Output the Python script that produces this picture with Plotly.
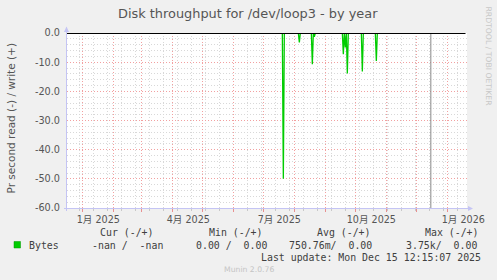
import plotly.graph_objects as go
import pandas as pd

# ---------------- data ----------------
read_dates = [
    "2025-07-01", "2025-07-20", "2025-07-21", "2025-07-22",
    "2025-08-05", "2025-08-06", "2025-08-07",
    "2025-08-18", "2025-08-19", "2025-08-20", "2025-08-21", "2025-08-22",
    "2025-09-18", "2025-09-19", "2025-09-20", "2025-09-21", "2025-09-22",
    "2025-09-23", "2025-09-24",
    "2025-10-07", "2025-10-08", "2025-10-09",
    "2025-10-21", "2025-10-22", "2025-10-23", "2025-12-15",
]
read_values = [
    0.0, 0.0, -50.0, 0.0,
    0.0, -3.2, 0.0,
    0.0, -10.7, 0.0, -1.3, 0.0,
    0.0, -7.3, 0.0, -5.0, 0.0,
    -13.9, 0.0,
    0.0, -13.2, 0.0,
    0.0, -9.6, 0.0, 0.0,
]
write_dates = ["2025-07-01", "2025-12-15"]
write_values = [0.0, 0.0]

now_marker = "2025-12-15 12:15"

x_range = ["2024-12-16 16:00", "2026-01-20 16:00"]
major_ticks = [d.strftime("%Y-%m-%d") for d in pd.date_range("2025-01-01", "2026-01-01", freq="MS")]
minor_start = "2024-12-29"
label_months = ["2025-01-01", "2025-04-01", "2025-07-01", "2025-10-01", "2026-01-01"]
label_text = ["1月 2025", "4月 2025", "7月 2025", "10月 2025", "1月 2026"]

y_ticks = [0, -10, -20, -30, -40, -50, -60]
y_labels = ["0.0", "-10.0", "-20.0", "-30.0", "-40.0", "-50.0", "-60.0"]

title = "Disk throughput for /dev/loop3 - by year"
y_title = "Pr second read (-) / write (+)"
legend_headers = ["Cur (-/+)", "Min (-/+)", "Avg (-/+)", "Max (-/+)"]
legend_name = "Bytes"
legend_values = ["-nan /  -nan", "0.00 /  0.00", "750.76m/  0.00", "3.75k/  0.00"]
last_update = "Last update: Mon Dec 15 12:15:07 2025"
footer = "Munin 2.0.76"
side_text = "RRDTOOL / TOBI OETIKER"

# ---------------- layout constants ----------------
W, H = 497, 280
L, R, T, B = 67, 30, 33, 72
PW, PH = W - L - R, H - T - B
GREEN = "#00CC00"
AXIS = "#C4C4F4"
TXT = "#555555"
SANS = "DejaVu Sans, Noto Sans CJK JP, sans-serif"
MONO = "DejaVu Sans Mono, monospace"


def px(x):
    return (x - L) / PW


def py(y):
    return (H - B - y) / PH


label_pos = [(pd.Timestamp(m) + pd.Timedelta(days=16)).strftime("%Y-%m-%d %H:%M") for m in label_months]

fig = go.Figure()
fig.add_trace(go.Scatter(x=write_dates, y=write_values, mode="lines",
                         line=dict(color=GREEN, width=1), hoverinfo="skip", showlegend=False))
fig.add_trace(go.Scatter(x=read_dates, y=read_values, mode="lines",
                         line=dict(color=GREEN, width=1.3), hoverinfo="skip", showlegend=False))
# invisible trace so the label axis is drawn
fig.add_trace(go.Scatter(x=label_pos, y=[None] * len(label_pos), xaxis="x2", mode="lines",
                         hoverinfo="skip", showlegend=False))

fig.update_layout(
    width=W, height=H,
    margin=dict(l=L, r=R, t=T, b=B, pad=0),
    paper_bgcolor="#F0F0F0",
    plot_bgcolor="#FFFFFF",
    showlegend=False,
    xaxis=dict(
        type="date", range=x_range,
        tickmode="array", tickvals=major_ticks, ticktext=[""] * len(major_ticks),
        showgrid=True, gridcolor="#F2A0A0", griddash="1px,2px", gridwidth=1,
        ticks="outside", ticklen=3, tickcolor="#E89090", tickwidth=1,
        minor=dict(tick0=minor_start, dtick=14 * 86400000, showgrid=True,
                   gridcolor="#D8D8D8", griddash="1px,2px", gridwidth=1,
                   ticks="outside", ticklen=2, tickcolor="#C8C8C8"),
        showline=False, zeroline=False, fixedrange=True,
    ),
    xaxis2=dict(
        type="date", range=x_range, overlaying="x", anchor="y", side="bottom",
        tickmode="array", tickvals=label_pos, ticktext=label_text,
        showgrid=False, ticks="", showline=False, zeroline=False,
        tickfont=dict(family=SANS, size=9.6, color=TXT), ticklabelstandoff=4,
    ),
    yaxis=dict(
        range=[-60, 0], tickmode="array", tickvals=y_ticks, ticktext=y_labels,
        showgrid=True, gridcolor="#F2A0A0", griddash="1px,2px", gridwidth=1,
        minor=dict(dtick=2, showgrid=True, gridcolor="#D8D8D8", griddash="1px,2px", gridwidth=1),
        ticks="", ticklabelstandoff=6,
        tickfont=dict(family=SANS, size=9.7, color=TXT),
        showline=False, zeroline=False, fixedrange=True,
    ),
)

shapes = []
# "now" marker
shapes.append(dict(type="line", xref="x", yref="paper", x0=now_marker, x1=now_marker, y0=0, y1=1,
                   line=dict(color="#8A8A8A", width=1), layer="above"))
# zero line
shapes.append(dict(type="line", xref="paper", yref="y", x0=0, x1=px(465.5), y0=0, y1=0,
                   line=dict(color="#000000", width=2), layer="above"))
# axes with arrows
shapes.append(dict(type="line", xref="paper", yref="paper", x0=px(66.5), x1=px(66.5), y0=py(211), y1=py(30),
                   line=dict(color=AXIS, width=1), layer="above"))
shapes.append(dict(type="line", xref="paper", yref="paper", x0=px(64), x1=px(469), y0=py(208.5), y1=py(208.5),
                   line=dict(color=AXIS, width=1), layer="above"))
shapes.append(dict(type="path", xref="paper", yref="paper",
                   path=f"M {px(64)} {py(32)} L {px(69)} {py(32)} L {px(66.5)} {py(26.5)} Z",
                   fillcolor=AXIS, line=dict(color=AXIS, width=0), layer="above"))
shapes.append(dict(type="path", xref="paper", yref="paper",
                   path=f"M {px(468)} {py(206)} L {px(468)} {py(211)} L {px(473)} {py(208.5)} Z",
                   fillcolor=AXIS, line=dict(color=AXIS, width=0), layer="above"))
# legend swatch
shapes.append(dict(type="rect", xref="paper", yref="paper", x0=px(14), x1=px(20.5), y0=py(248), y1=py(241.5),
                   fillcolor=GREEN, line=dict(color="#009900", width=0.5)))
fig.update_layout(shapes=shapes)


def nb(s):
    return s.replace(" ", "\u00a0")


ann = []
ann.append(dict(text=title, x=px(248), y=py(13.5), xref="paper", yref="paper", showarrow=False,
                xanchor="center", yanchor="middle", font=dict(family=SANS, size=12.9, color=TXT)))
ann.append(dict(text=y_title, x=px(10), y=py(118.5), xref="paper", yref="paper", showarrow=False,
                textangle=-90, xanchor="center", yanchor="middle", font=dict(family=SANS, size=10.5, color=TXT)))
ann.append(dict(text=side_text, x=px(488.5), y=py(56), xref="paper", yref="paper", showarrow=False,
                textangle=90, xanchor="center", yanchor="middle", font=dict(family=SANS, size=7.7, color="#C8C8C8")))
for h, x in zip(legend_headers, [98.3, 206.7, 315, 422.7]):
    ann.append(dict(text=nb(h), x=px(x), y=py(232.5), xref="paper", yref="paper", showarrow=False,
                    xanchor="left", yanchor="middle", font=dict(family=MONO, size=9.9, color="#404040")))
ann.append(dict(text=legend_name, x=px(26.7), y=py(245), xref="paper", yref="paper", showarrow=False,
                xanchor="left", yanchor="middle", font=dict(family=MONO, size=9.9, color="#404040")))
for v, x in zip(legend_values, [90, 194.3, 286.7, 404]):
    ann.append(dict(text=nb(v), x=px(x), y=py(245), xref="paper", yref="paper", showarrow=False,
                    xanchor="left", yanchor="middle", font=dict(family=MONO, size=9.9, color="#404040")))
ann.append(dict(text=nb(last_update), x=px(482.5), y=py(257), xref="paper", yref="paper", showarrow=False,
                xanchor="right", yanchor="middle", font=dict(family=MONO, size=9.9, color="#404040")))
ann.append(dict(text=footer, x=px(248.5), y=py(269.5), xref="paper", yref="paper", showarrow=False,
                xanchor="center", yanchor="middle", font=dict(family=SANS, size=7.7, color="#C4C4C4")))
for a in ann:
    a["xshift"] = 0
fig.update_layout(annotations=ann)

fig.write_html("out.html", config={"displayModeBar": False})
